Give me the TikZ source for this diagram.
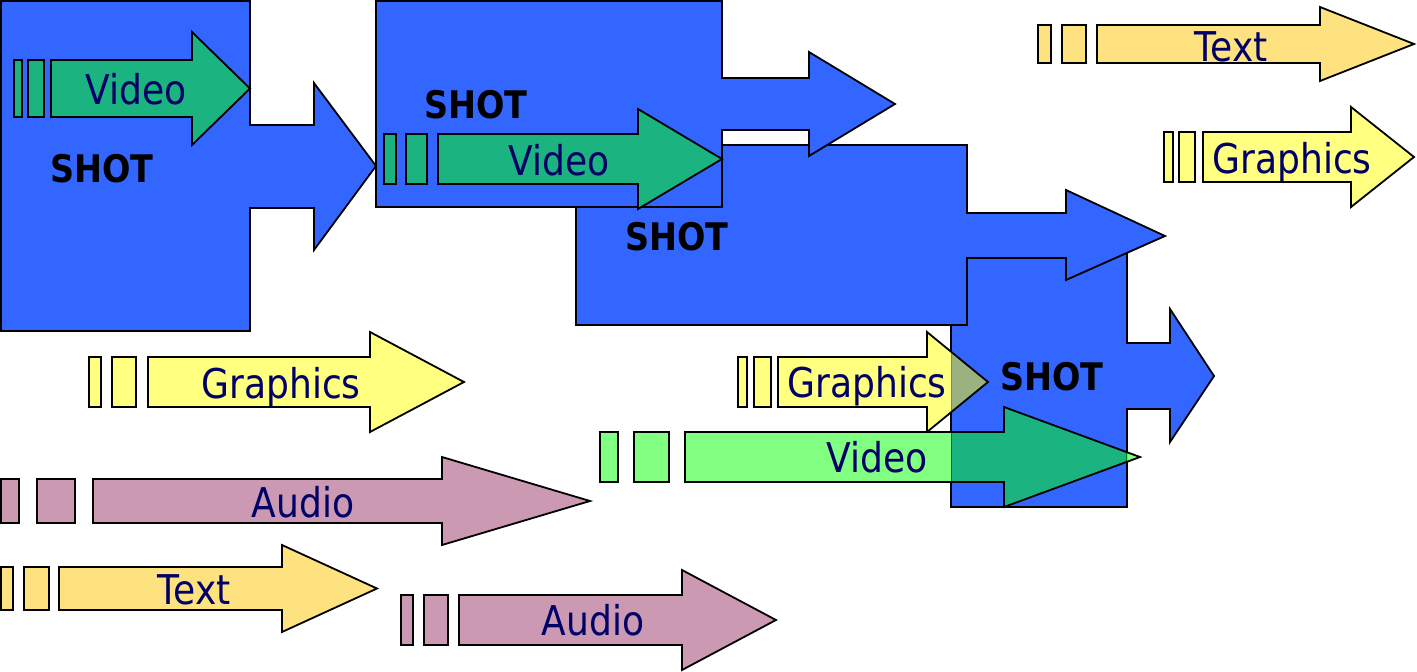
\documentclass[tikz,border=0pt]{standalone}
\usepackage{fontspec}
\setmainfont{DejaVu Sans}[FakeStretch=0.88]
\usepackage{tikz}
\definecolor{shotblue}{RGB}{51, 102, 255}
\definecolor{videodark}{RGB}{27, 179, 127}
\definecolor{videolight}{RGB}{128, 255, 128}
\definecolor{gfxyellow}{RGB}{255, 255, 128}
\definecolor{gfxolive}{RGB}{153, 178, 128}
\definecolor{textorange}{RGB}{255, 226, 128}
\definecolor{audiomauve}{RGB}{204, 153, 178}
\definecolor{labelnavy}{RGB}{0, 0, 102}

\begin{document}
\begin{tikzpicture}[x=1pt, y=-1pt, line join=miter,
  shot/.style={draw=black, fill=shotblue, line width=1.8pt},
  track/.style={draw=black, line width=1.8pt},
  shotlabel/.style={anchor=base, inner sep=0pt, font=\fontsize{38}{38}\selectfont\bfseries},
  tracklabel/.style={anchor=base, inner sep=0pt, text=labelnavy, font=\fontsize{41}{41}\selectfont}]
  \useasboundingbox (0,0) rectangle (1417,672);

  % Shot outlines, back to front
  \def\shotfour{(951,248) -- (1127,248) -- (1127,343) -- (1170,343) -- (1170,309) -- (1214,376) -- (1170,442) -- (1170,409) -- (1127,409) -- (1127,507) -- (951,507) -- cycle}
  \draw[shot] \shotfour;
  \node[shotlabel] (shotfour) at (1052,390) {SHOT};

  \draw[shot] (576,145) -- (967,145) -- (967,213) -- (1066,213) -- (1066,190) -- (1165,236) -- (1066,280) -- (1066,258) -- (967,258) -- (967,325) -- (576,325) -- cycle;
  \node[shotlabel] (shotthree) at (677,250) {SHOT};

  \draw[shot] (376,1) -- (722,1) -- (722,78) -- (809,78) -- (809,52) -- (895,104) -- (809,156) -- (809,130) -- (722,130) -- (722,207) -- (376,207) -- cycle;
  \node[shotlabel] (shottwo) at (476,118) {SHOT};

  \draw[shot] (1,1) -- (250,1) -- (250,125) -- (314,125) -- (314,83) -- (376,166) -- (314,250) -- (314,208) -- (250,208) -- (250,331) -- (1,331) -- cycle;
  \node[shotlabel] (shotone) at (102,182) {SHOT};

  % Tracks: two lead bars, then the arrow
  \foreach \col/\ya/\yb/\d/\ba/\bb/\bc/\bd/\sx/\hx/\tx/\lx/\ly/\lbl/\nm in {
      videodark/60/117/28/14/22/28/44/51/192/250/136/104/Video/vidone,
      videodark/134/184/25/384/396/406/427/438/638/722/559/175/Video/vidtwo,
      gfxyellow/357/407/25/89/101/112/136/148/370/464/281/398/Graphics/gfxleft,
      audiomauve/479/523/22/1/19/37/75/93/442/590/303/517/Audio/audleft,
      textorange/567/610/22/1/13/24/49/59/282/377/194/604/Text/txtleft,
      audiomauve/595/645/25/401/413/424/448/459/682/776/593/635/Audio/audbottom,
      textorange/25/63/18/1038/1051/1062/1086/1097/1320/1414/1231/61/Text/txtright,
      gfxyellow/132/182/25/1164/1173/1179/1195/1203/1351/1414/1292/173/Graphics/gfxright} {
    \draw[track, fill=\col] (\ba,\ya) rectangle (\bb,\yb);
    \draw[track, fill=\col] (\bc,\ya) rectangle (\bd,\yb);
    \draw[track, fill=\col] (\sx,\ya) -- (\hx,\ya) -- (\hx,\ya-\d) -- (\tx,{(\ya+\yb)/2}) -- (\hx,\yb+\d) -- (\hx,\yb) -- (\sx,\yb) -- cycle;
    \node[tracklabel] (\nm) at (\lx,\ly) {\lbl};
  }

  % Graphics track running into the last shot
  \def\gfxmid{(778,357) -- (927,357) -- (927,332) -- (988,382) -- (927,432) -- (927,407) -- (778,407) -- cycle}
  \draw[track, fill=gfxyellow] (738,357) rectangle (747,407);
  \draw[track, fill=gfxyellow] (754,357) rectangle (771,407);
  \fill[gfxyellow] \gfxmid;
  \begin{scope}
    \clip \shotfour;
    \fill[gfxolive] \gfxmid;
    \clip \gfxmid;
    \draw[black, opacity=0.2, line width=1.8pt] \shotfour;
  \end{scope}
  \draw[track] \gfxmid;
  \node[tracklabel] (gfxmid) at (867,397) {Graphics};

  % Video track running into the last shot
  \def\vidmid{(685,432) -- (1004,432) -- (1004,407) -- (1140,457) -- (1004,507) -- (1004,482) -- (685,482) -- cycle}
  \draw[track, fill=videolight] (600,432) rectangle (618,482);
  \draw[track, fill=videolight] (634,432) rectangle (669,482);
  \fill[videolight] \vidmid;
  \begin{scope}
    \clip \shotfour;
    \fill[videodark] \vidmid;
    \clip \vidmid;
    \draw[black!50!green, line width=1.8pt] \shotfour;
  \end{scope}
  \draw[track] \vidmid;
  \node[tracklabel] (vidmid) at (877,472) {Video};
\end{tikzpicture}
\end{document}
